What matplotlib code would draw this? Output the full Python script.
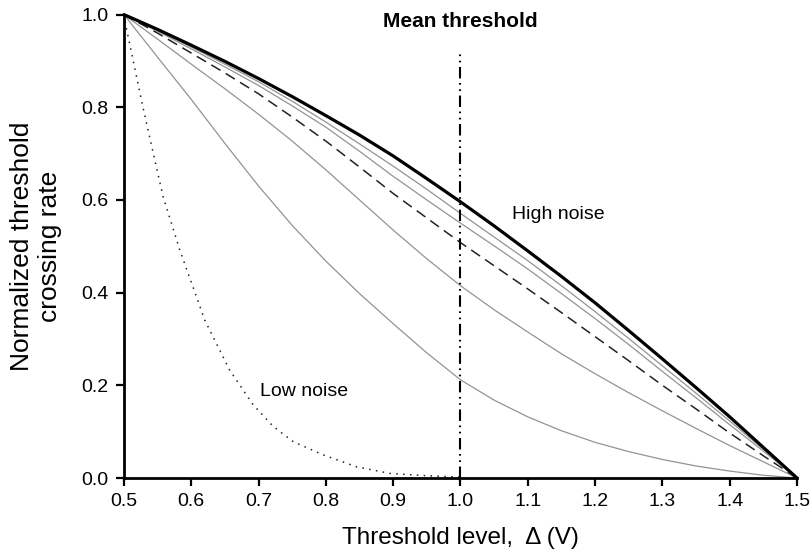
import matplotlib
matplotlib.use('Agg')
import matplotlib.pyplot as plt
import numpy as np

plt.rcParams['font.family'] = ['Liberation Sans', 'DejaVu Sans']

# threshold levels (V)
x = [0.5, 0.55, 0.6, 0.65, 0.7, 0.75, 0.8, 0.85, 0.9, 0.95, 1.0,
     1.05, 1.1, 1.15, 1.2, 1.25, 1.3, 1.35, 1.4, 1.45, 1.5]

# curves, highest noise first
high_noise = [1.0, 0.968, 0.934, 0.899, 0.862, 0.823, 0.782, 0.740, 0.695, 0.646, 0.596,
              0.544, 0.490, 0.435, 0.378, 0.318, 0.257, 0.195, 0.132, 0.066, 0.0]
gray1 = [1.0, 0.966, 0.930, 0.893, 0.855, 0.813, 0.768, 0.721, 0.673, 0.623, 0.571,
         0.520, 0.469, 0.415, 0.359, 0.301, 0.242, 0.183, 0.123, 0.062, 0.0]
gray2 = [1.0, 0.964, 0.926, 0.887, 0.847, 0.803, 0.757, 0.705, 0.651, 0.600, 0.550,
         0.501, 0.451, 0.398, 0.344, 0.288, 0.230, 0.173, 0.115, 0.058, 0.0]
dashed = [1.0, 0.960, 0.917, 0.874, 0.829, 0.779, 0.727, 0.671, 0.614, 0.561, 0.508,
          0.458, 0.408, 0.357, 0.305, 0.253, 0.200, 0.149, 0.097, 0.048, 0.0]
gray3 = [1.0, 0.947, 0.893, 0.840, 0.785, 0.727, 0.665, 0.600, 0.535, 0.473, 0.415,
         0.363, 0.315, 0.268, 0.225, 0.184, 0.145, 0.107, 0.070, 0.035, 0.0]
gray4 = [1.0, 0.908, 0.817, 0.722, 0.630, 0.545, 0.468, 0.398, 0.333, 0.270, 0.212,
         0.168, 0.132, 0.102, 0.077, 0.057, 0.040, 0.026, 0.015, 0.006, 0.0]

# low noise curve, sampled more finely
x_low = [0.5, 0.504, 0.529, 0.558, 0.583, 0.62, 0.657, 0.692, 0.722, 0.752,
         0.796, 0.846, 0.895, 0.95, 1.0]
low_noise = [1.0, 0.968, 0.795, 0.608, 0.492, 0.341, 0.233, 0.158, 0.111, 0.078,
             0.050, 0.024, 0.010, 0.005, 0.002]

fig = plt.figure(figsize=(8.1, 5.52), dpi=100)
ax = fig.add_axes([0.153, 0.134, 0.831, 0.8396])

grey = '#939393'
ax.plot(x, gray4, color=grey, lw=0.9, clip_on=False)
ax.plot(x, gray3, color=grey, lw=0.9, clip_on=False)
ax.plot(x, gray2, color=grey, lw=0.9, clip_on=False)
ax.plot(x, gray1, color=grey, lw=0.9, clip_on=False)
ax.plot(x, dashed, color='#222222', lw=1.1, linestyle=(0, (7, 4)), clip_on=False)
ax.plot(x_low, low_noise, color='#222222', lw=1.1, linestyle=(0, (1, 3.5)), clip_on=False)
ax.plot(x, high_noise, color='black', lw=2.3, clip_on=False, solid_capstyle='round')

# mean threshold marker (dash, dot, dot)
ax.plot([1.0, 1.0], [0.0, 0.917], color='black', lw=1.5,
        linestyle=(0, (5.5, 2.2, 0.8, 2.2, 0.8, 2.2)))
ax.text(1.0, 0.985, 'Mean threshold', ha='center', va='center',
        fontsize=15, fontweight='bold')
ax.text(1.077, 0.568, 'High noise', ha='left', va='center', fontsize=14)
ax.text(0.702, 0.186, 'Low noise', ha='left', va='center', fontsize=14)

ax.set_xlim(0.5, 1.5)
ax.set_ylim(0.0, 1.0)
ax.set_xticks(np.arange(0.5, 1.51, 0.1))
ax.set_yticks(np.arange(0.0, 1.01, 0.2))
ax.set_xticklabels(['%.1f' % v for v in np.arange(0.5, 1.51, 0.1)])
ax.set_yticklabels(['%.1f' % v for v in np.arange(0.0, 1.01, 0.2)])
ax.tick_params(direction='out', length=6, width=1.6, labelsize=14, pad=5)

for side in ['top', 'right']:
    ax.spines[side].set_visible(False)
for side in ['left', 'bottom']:
    ax.spines[side].set_linewidth(2.0)

ax.set_xlabel('Threshold level,  \u0394 (V)', fontsize=17.5, labelpad=12)
ax.set_ylabel('Normalized threshold\ncrossing rate', fontsize=19, labelpad=14)

plt.savefig('out.png', dpi=100)
